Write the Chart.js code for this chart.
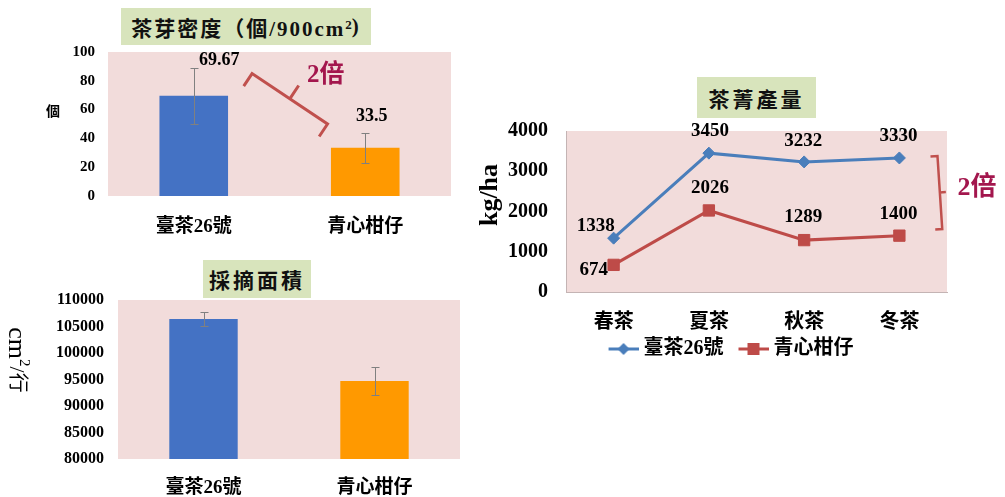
<!DOCTYPE html>
<html>
<head>
<meta charset="utf-8">
<script src="https://cdn.jsdelivr.net/npm/chart.js@4"></script>
<style>
  body { margin: 0; background: #fff; width: 1005px; height: 497px; position: relative; overflow: hidden; }
  canvas { position: absolute; }
  .ttl {
    position: absolute; background: #d8e4bc; display: flex; align-items: center; justify-content: center;
    font: bold 21px "Liberation Serif", "Noto Sans CJK TC", serif; letter-spacing: 3px; color: #111; white-space: nowrap;
  }
  .ttl sup { font-size: 13px; position: relative; top: -2px; letter-spacing: 0; }
</style>
</head>
<body>
<canvas id="density" width="470" height="250" style="left:0;top:0"></canvas>
<canvas id="area" width="470" height="247" style="left:0;top:250px"></canvas>
<canvas id="yield" width="535" height="300" style="left:470px;top:70px"></canvas>
<div class="ttl" style="left:121px;top:8px;width:250px;height:37px;letter-spacing:2px">茶芽密度（個/900cm<sup>2</sup>)</div>
<div class="ttl" style="left:203px;top:260px;width:108px;height:38px">採摘面積</div>
<div class="ttl" style="left:697px;top:77px;width:119px;height:41px">茶菁產量</div>
<script>
// varieties compared in the two bar charts
const varieties = ['臺茶26號', '青心柑仔'];
// bud density, buds per 900 cm2, with error half-widths
const budDensity = [69.67, 33.5];
const budDensityErr = [19.5, 10.5];
// plucking surface area, cm2 per row
const pluckingArea = [106400, 94700];
const pluckingAreaErr = [1300, 2650];
// seasonal fresh leaf yield, kg/ha
const seasons = ['春茶', '夏茶', '秋茶', '冬茶'];
const yieldTT26 = [1338, 3450, 3232, 3330];
const yieldCXGZ = [674, 2026, 1289, 1400];

const SERIF = '"Liberation Serif", "Noto Sans CJK TC", serif';
const PINK = '#f2dcdb';
const BRACE_RED = '#c0504d';
const NOTE_RED = '#a3164d';

// pink plot area behind the marks
const plotBg = {
  id: 'plotBg',
  beforeDraw(chart, args, opts) {
    if (!opts.color) return;
    const { ctx, chartArea: a } = chart;
    ctx.save();
    ctx.fillStyle = opts.color;
    ctx.fillRect(a.left, a.top, a.width, a.height);
    ctx.restore();
  }
};

// +/- error whiskers on the first dataset
const errorBars = {
  id: 'errorBars',
  afterDatasetsDraw(chart, args, opts) {
    if (!opts.errors) return;
    const { ctx } = chart;
    const y = chart.scales.y;
    const values = chart.data.datasets[0].data;
    ctx.save();
    ctx.strokeStyle = '#808080';
    ctx.lineWidth = 1;
    chart.getDatasetMeta(0).data.forEach((bar, i) => {
      const x = Math.round(bar.x) + 0.5;
      const top = Math.round(y.getPixelForValue(values[i] + opts.errors[i])) + 0.5;
      const bot = Math.round(y.getPixelForValue(values[i] - opts.errors[i])) + 0.5;
      ctx.beginPath();
      ctx.moveTo(x, top); ctx.lineTo(x, bot);
      ctx.moveTo(x - 4, top); ctx.lineTo(x + 4, top);
      ctx.moveTo(x - 4, bot); ctx.lineTo(x + 4, bot);
      ctx.stroke();
    });
    ctx.restore();
  }
};

// value text next to each bar / point
const valueLabels = {
  id: 'valueLabels',
  afterDatasetsDraw(chart, args, opts) {
    if (!opts.offsets) return;
    const { ctx } = chart;
    ctx.save();
    ctx.font = opts.font;
    ctx.fillStyle = '#000';
    ctx.textAlign = 'center';
    ctx.textBaseline = 'middle';
    chart.data.datasets.forEach((ds, d) => {
      chart.getDatasetMeta(d).data.forEach((el, i) => {
        const [dx, dy] = opts.offsets[d][i];
        ctx.fillText(String(ds.data[i]), el.x + dx, el.y + dy);
      });
    });
    ctx.restore();
  }
};

Chart.register(plotBg, errorBars, valueLabels);

function drawBrace(ctx, x1, y1, x2, y2, hook, prong, width) {
  const dx = x2 - x1, dy = y2 - y1, len = Math.hypot(dx, dy);
  const nx = dy / len, ny = -dx / len;
  const mx = (x1 + x2) / 2, my = (y1 + y2) / 2;
  ctx.save();
  ctx.strokeStyle = BRACE_RED;
  ctx.lineWidth = width;
  ctx.beginPath();
  ctx.moveTo(x1 - nx * hook, y1 - ny * hook);
  ctx.lineTo(x1, y1);
  ctx.lineTo(x2, y2);
  ctx.lineTo(x2 - nx * hook, y2 - ny * hook);
  ctx.moveTo(mx, my);
  ctx.lineTo(mx + nx * prong, my + ny * prong);
  ctx.stroke();
  ctx.restore();
}

function noteText(ctx, text, x, y, font, color, align) {
  ctx.save();
  ctx.font = font;
  ctx.fillStyle = color;
  ctx.textAlign = align || 'left';
  ctx.textBaseline = 'middle';
  ctx.fillText(text, x, y);
  ctx.restore();
}

const hiddenGrid = { display: false, drawTicks: false };
const tickFont = size => ({ family: SERIF, size, weight: 'bold' });
const plainNumber = v => String(v);

// ---- 茶芽密度 ----
const densityNotes = {
  id: 'densityNotes',
  afterDraw(chart) {
    const { ctx, scales: { x, y } } = chart;
    drawBrace(ctx, x.getPixelForValue(0.34), y.getPixelForValue(85),
      x.getPixelForValue(0.78), y.getPixelForValue(50), 15, 16, 3);
    noteText(ctx, '2倍', x.getPixelForValue(0.66), y.getPixelForValue(83.4), `bold 25px ${SERIF}`, NOTE_RED);
    noteText(ctx, '個', 53, 112, `bold 14px ${SERIF}`, '#000', 'center');
  }
};

new Chart(document.getElementById('density'), {
  type: 'bar',
  data: {
    labels: varieties,
    datasets: [{ data: budDensity, backgroundColor: ['#4472c4', '#ff9900'], barPercentage: 0.4, categoryPercentage: 1 }]
  },
  options: {
    responsive: false,
    animation: false,
    layout: { padding: { top: 52, right: 19, left: 0, bottom: 0 } },
    scales: {
      x: {
        grid: hiddenGrid, border: { display: false },
        ticks: { padding: 20, color: '#000', font: tickFont(19) },
        afterFit: s => { s.height = 54; }
      },
      y: {
        min: 0, max: 100,
        grid: hiddenGrid, border: { display: false },
        ticks: { stepSize: 20, padding: 13, color: '#000', font: tickFont(15), callback: plainNumber },
        afterFit: s => { s.width = 108; }
      }
    },
    plugins: {
      legend: { display: false },
      tooltip: { enabled: false },
      plotBg: { color: PINK },
      errorBars: { errors: budDensityErr },
      valueLabels: { font: `bold 18px ${SERIF}`, offsets: [[[25.5, -35], [6.5, -31]]] }
    }
  },
  plugins: [densityNotes]
});

// ---- 採摘面積 ----
const areaNotes = {
  id: 'areaNotes',
  afterDraw(chart) {
    const { ctx } = chart;
    ctx.save();
    ctx.translate(16, 110);
    ctx.rotate(Math.PI / 2);
    ctx.fillStyle = '#000';
    ctx.textBaseline = 'middle';
    const parts = [
      ['cm', `26px ${SERIF}`, 0],
      ['2', `15px ${SERIF}`, -8],
      ['/', `22px ${SERIF}`, 0],
      ['行', `20px ${SERIF}`, 0]
    ];
    let total = 0;
    parts.forEach(p => { ctx.font = p[1]; total += ctx.measureText(p[0]).width; });
    let cx = -total / 2;
    parts.forEach(p => {
      ctx.font = p[1];
      ctx.fillText(p[0], cx, p[2]);
      cx += ctx.measureText(p[0]).width;
    });
    ctx.restore();
  }
};

new Chart(document.getElementById('area'), {
  type: 'bar',
  data: {
    labels: varieties,
    datasets: [{ data: pluckingArea, backgroundColor: ['#4472c4', '#ff9900'], barPercentage: 0.4, categoryPercentage: 1 }]
  },
  options: {
    responsive: false,
    animation: false,
    layout: { padding: { top: 50, right: 10, left: 0, bottom: 0 } },
    scales: {
      x: {
        grid: hiddenGrid, border: { display: false },
        ticks: { padding: 18, color: '#000', font: tickFont(19) },
        afterFit: s => { s.height = 38; }
      },
      y: {
        min: 80000, max: 110000,
        grid: hiddenGrid, border: { display: false },
        ticks: { stepSize: 5000, padding: 14, color: '#000', font: tickFont(16), callback: plainNumber },
        afterFit: s => { s.width = 118; }
      }
    },
    plugins: {
      legend: { display: false },
      tooltip: { enabled: false },
      plotBg: { color: PINK },
      errorBars: { errors: pluckingAreaErr }
    }
  },
  plugins: [areaNotes]
});

// ---- 茶菁產量 ----
// legend swatch: short line with the series marker; transparent left margin spaces the items
function legendMarker(color, shape, r) {
  const c = document.createElement('canvas');
  c.width = 46; c.height = 16;
  const g = c.getContext('2d');
  g.strokeStyle = color;
  g.lineWidth = 3;
  g.beginPath(); g.moveTo(16, 8); g.lineTo(46, 8); g.stroke();
  g.fillStyle = color;
  g.beginPath();
  if (shape === 'diamond') {
    g.moveTo(31, 8 - r); g.lineTo(31 + r, 8); g.lineTo(31, 8 + r); g.lineTo(31 - r, 8);
  } else {
    g.rect(31 - r, 8 - r, 2 * r, 2 * r);
  }
  g.fill();
  return c;
}
const legendMarkers = [legendMarker('#4a7ebb', 'diamond', 6), legendMarker('#be4b48', 'square', 6)];

const yieldNotes = {
  id: 'yieldNotes',
  afterDraw(chart) {
    const { ctx, scales: { x, y } } = chart;
    drawBrace(ctx, x.getPixelForValue(3.4), y.getPixelForValue(3380),
      x.getPixelForValue(3.45), y.getPixelForValue(1565), 7, 6, 2.5);
    noteText(ctx, '2倍', x.getPixelForValue(3.61), y.getPixelForValue(2584), `bold 26px ${SERIF}`, NOTE_RED);
    ctx.save();
    ctx.translate(20, 125);
    ctx.rotate(-Math.PI / 2);
    noteText(ctx, 'kg/ha', 0, 0, `bold 26px ${SERIF}`, '#000', 'center');
    ctx.restore();
  }
};

new Chart(document.getElementById('yield'), {
  type: 'line',
  data: {
    labels: seasons,
    datasets: [
      {
        label: '臺茶26號', data: yieldTT26,
        borderColor: '#4a7ebb', backgroundColor: '#4a7ebb', borderWidth: 3,
        pointStyle: 'rectRot', pointRadius: 6, pointBorderWidth: 1
      },
      {
        label: '青心柑仔', data: yieldCXGZ,
        borderColor: '#be4b48', backgroundColor: '#be4b48', borderWidth: 3,
        pointStyle: 'rect', pointRadius: 8, pointBorderWidth: 1
      }
    ]
  },
  options: {
    responsive: false,
    animation: false,
    layout: { padding: { top: 61, right: 24, left: 0, bottom: 1 } },
    scales: {
      x: {
        offset: true,
        grid: { display: false, drawTicks: false, offset: true },
        border: { display: true, color: '#c4b4b4', width: 1 },
        ticks: { padding: 19, color: '#000', font: tickFont(20) },
        afterFit: s => { s.height = 43; }
      },
      y: {
        min: 0, max: 4000,
        grid: hiddenGrid,
        border: { display: true, color: '#c4b4b4', width: 1 },
        ticks: { stepSize: 1000, padding: 18, color: '#000', font: tickFont(20), callback: plainNumber },
        afterFit: s => { s.width = 96; }
      },
      // empty strip on the right that holds the brace note
      side: {
        position: 'right',
        grid: hiddenGrid,
        border: { display: false },
        ticks: { display: false },
        afterFit: s => { s.width = 34; }
      }
    },
    plugins: {
      legend: {
        position: 'bottom',
        labels: {
          usePointStyle: true,
          pointStyleWidth: 36,
          padding: 4,
          color: '#000',
          font: tickFont(20),
          generateLabels: chart => Chart.defaults.plugins.legend.labels.generateLabels(chart)
            .map((item, i) => Object.assign(item, { pointStyle: legendMarkers[i] }))
        }
      },
      tooltip: { enabled: false },
      plotBg: { color: PINK },
      valueLabels: {
        font: `bold 19px ${SERIF}`,
        offsets: [
          [[-18, -12], [1, -22], [-1, -21], [-1, -22]],
          [[-20, 5], [1, -22], [-1, -23], [-1, -22]]
        ]
      }
    }
  },
  plugins: [yieldNotes]
});
</script>
</body>
</html>
